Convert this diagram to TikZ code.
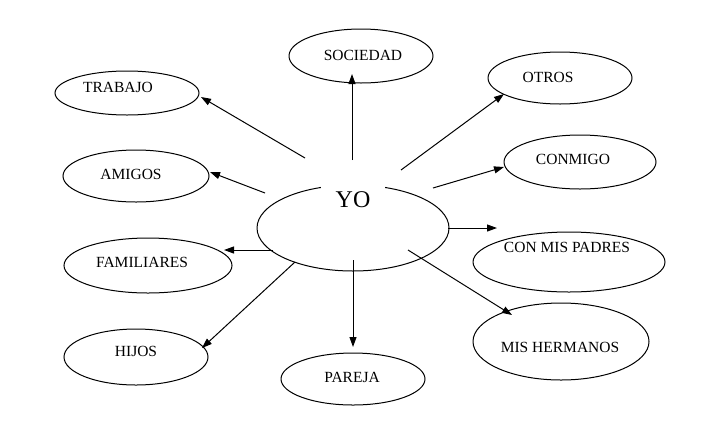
\documentclass[tikz,border=0pt]{standalone}
\usepackage{fontspec}
\setmainfont{Liberation Serif}
\usetikzlibrary{shapes.geometric,arrows.meta}
\begin{document}
\begin{tikzpicture}[x=0.5pt,y=-0.5pt,
  bub/.style={ellipse,draw=black,line width=0.5pt,inner sep=0pt},
  lbl/.style={font=\fontsize{7.75pt}{9pt}\selectfont,inner sep=0pt},
  arr/.style={line width=0.5pt,-{Triangle[length=5pt,width=3.5pt]}}]
\useasboundingbox (0,0) rectangle (710,445);
% ellipses
\node[bub,minimum width=72pt,minimum height=27pt] (soc) at (361,56) {};
\node[bub,minimum width=72pt,minimum height=22pt] (trab) at (127,93) {};
\node[bub,minimum width=72pt,minimum height=26pt] (otros) at (560,78) {};
\node[bub,minimum width=76pt,minimum height=27pt] (conm) at (580,162) {};
\node[bub,minimum width=73pt,minimum height=26pt] (amig) at (136,176) {};
\node[bub,minimum width=84pt,minimum height=27.5pt] (fam) at (148,265.5) {};
\node[bub,minimum width=72pt,minimum height=28pt] (hijos) at (136,357) {};
\node[bub,minimum width=72pt,minimum height=26pt] (par) at (353,379) {};
\node[bub,minimum width=96pt,minimum height=30pt] (pad) at (569,262) {};
\node[bub,minimum width=88pt,minimum height=38.5pt] (herm) at (561,341.5) {};
\node[bub,minimum width=96pt,minimum height=43pt] (yo) at (353,228) {};
% labels
\node[lbl] (socT) at (363,55) {SOCIEDAD};
\node[lbl] (trabT) at (118,87) {TRABAJO};
\node[lbl] (otrosT) at (548,77) {OTROS};
\node[lbl] (conmT) at (573,159) {CONMIGO};
\node[lbl] (amigT) at (131,174) {AMIGOS};
\node[lbl] (famT) at (142,262) {FAMILIARES};
\node[lbl] (hijosT) at (136,351) {HIJOS};
\node[lbl] (parT) at (352,377) {PAREJA};
\node[lbl] (padT) at (567,247) {CON MIS PADRES};
\node[lbl] (hermT) at (560,347) {MIS HERMANOS};
\node[fill=white,inner sep=0pt,minimum width=32pt,minimum height=16.5pt,
      font=\fontsize{12pt}{14pt}\selectfont] (yoT) at (353,200) {YO\hspace{5pt}};
% connectors
\draw[arr] ([shift={(-48,-70)}]yo.center) -- ([shift={(74,4)}]trab.center);
\draw[arr] ([shift={(-1,-68)}]yo.center) -- ([shift={(-9,18)}]soc.center);
\draw[arr] ([shift={(48,-58)}]yo.center) -- ([shift={(-56,16)}]otros.center);
\draw[arr] ([shift={(80,-40)}]yo.center) -- ([shift={(-76,5)}]conm.center);
\draw[arr] ([shift={(-88,-35)}]yo.center) -- ([shift={(74,-4)}]amig.center);
\draw[arr] ([shift={(-80,22)}]yo.center) -- ([shift={(76,-15.5)}]fam.center);
\draw[arr] ([shift={(-58,34)}]yo.center) -- ([shift={(66,-9)}]hijos.center);
\draw[arr] ([shift={(0,32)}]yo.center) -- ([shift={(0,-32)}]par.center);
\draw[arr] ([shift={(95,0)}]yo.center) -- ([shift={(-72,-34)}]pad.center);
\draw[arr] ([shift={(55,22)}]yo.center) -- ([shift={(-49,-26.5)}]herm.center);
\end{tikzpicture}
\end{document}
